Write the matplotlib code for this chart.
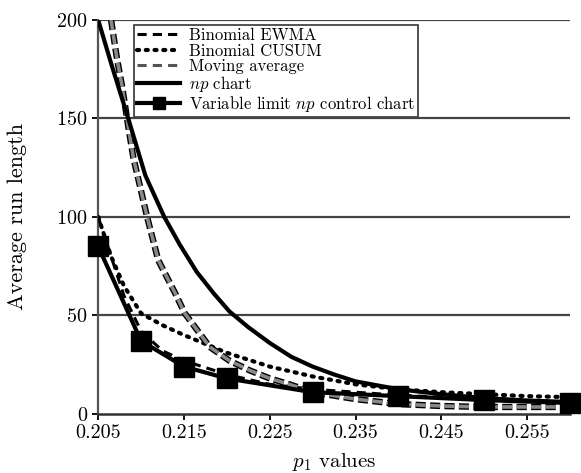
import matplotlib
matplotlib.use('Agg')
import matplotlib.pyplot as plt
import matplotlib.patheffects as pe
import numpy as np

plt.rcParams['font.family'] = 'serif'
plt.rcParams['font.serif'] = ['cmr10', 'DejaVu Serif']
plt.rcParams['mathtext.fontset'] = 'cm'
plt.rcParams['axes.unicode_minus'] = False
plt.rcParams['axes.formatter.use_mathtext'] = True

# values
ewma_x = [0.205, 0.2065, 0.208, 0.21, 0.2125, 0.215, 0.22, 0.225, 0.23, 0.24, 0.25, 0.26]
ewma_y = [100, 80, 60, 42, 32, 27, 20, 15, 12.5, 9.5, 7.5, 6]

cusum_x = [0.205, 0.2065, 0.208, 0.21, 0.2125, 0.215, 0.22, 0.225, 0.23, 0.235, 0.24, 0.245, 0.25, 0.255, 0.26]
cusum_y = [100, 80, 65, 51, 45, 40, 31, 24, 19, 15, 12.5, 11, 10, 9, 8.5]

ma_x = [0.2065, 0.2072, 0.2078, 0.2085, 0.2091, 0.2099, 0.2107, 0.212, 0.214, 0.2151,
        0.218, 0.2203, 0.2227, 0.225, 0.2273, 0.23, 0.235, 0.24, 0.245, 0.25, 0.255, 0.26]
ma_y = [200, 180, 166, 146, 130, 115, 100, 78, 61, 51,
        34, 27, 22, 18, 15, 11, 7.5, 5, 4, 3.5, 3.5, 3.5]

np_x = [0.205, 0.2065, 0.2085, 0.2105, 0.2127, 0.2145, 0.2165, 0.2185, 0.2203, 0.2225,
        0.225, 0.2275, 0.23, 0.2325, 0.235, 0.24, 0.245, 0.25, 0.255, 0.26]
np_y = [200, 178, 150, 121, 100, 86, 72, 61, 52, 44,
        36, 29, 24, 20, 16.5, 12.5, 10, 8, 6.8, 6]

vl_x = [0.205, 0.21, 0.215, 0.22, 0.23, 0.24, 0.25, 0.26]
vl_y = [85, 37, 24, 18, 11, 9, 7, 5.5]

xticks = [0.205, 0.215, 0.225, 0.235, 0.245, 0.255]
yticks = [0, 50, 100, 150, 200]

fig = plt.figure(figsize=(5.81, 4.73), dpi=100)
ax = fig.add_axes([0.169, 0.125, 0.812, 0.833])

for yv in yticks[1:]:
    ax.axhline(yv, color='#444444', lw=1.6, zorder=1)

ax.plot(ewma_x, ewma_y, color='black', lw=2.2, ls=(0, (3, 2)), zorder=3,
        label='Binomial EWMA')
ax.plot(cusum_x, cusum_y, color='black', lw=3, ls=(0, (0.5, 1.6)),
        dash_capstyle='round', zorder=3, label='Binomial CUSUM')
ax.plot(ma_x, ma_y, color='#888888', lw=2.6, ls=(0, (2.8, 1.2)), zorder=3,
        path_effects=[pe.Stroke(linewidth=4.6, foreground='black'), pe.Normal()])
ax.plot(np_x, np_y, color='black', lw=3, zorder=4, label='$np$ chart')
ax.plot(vl_x, vl_y, color='black', lw=3, marker='s', ms=14, zorder=5,
        clip_on=False, label='Variable limit $np$ control chart')

# legend proxy for the moving average (plain grey dashes)
ax.plot([], [], color='#555555', lw=2.2, ls=(0, (3, 2)), label='Moving average')

handles, labels = ax.get_legend_handles_labels()
order = [0, 1, 4, 2, 3]
leg = ax.legend([handles[i] for i in order], [labels[i] for i in order],
                loc='upper left', bbox_to_anchor=(0.075, 0.988), fontsize=12,
                frameon=True, fancybox=False, edgecolor='#444444',
                handlelength=2.6, handletextpad=0.5, borderpad=0.2,
                labelspacing=0.0, framealpha=1, markerscale=0.6,
                borderaxespad=0)
leg.get_frame().set_linewidth(1.3)
leg.set_zorder(6)

ax.set_xlim(0.205, 0.26)
ax.set_ylim(0, 200)
ax.set_xticks(xticks)
ax.set_xticklabels(['%.3f' % v for v in xticks])
ax.set_yticks(yticks)
ax.tick_params(axis='both', direction='out', length=4, width=1.3, labelsize=14.5,
               colors='black')

ax.spines['top'].set_visible(False)
ax.spines['right'].set_visible(False)
ax.spines['left'].set_color('#555555')
ax.spines['left'].set_linewidth(1.6)
ax.spines['bottom'].set_color('#333333')
ax.spines['bottom'].set_linewidth(1.8)

ax.set_ylabel('Average run length', fontsize=16, labelpad=21)
ax.set_xlabel('$p_1$ values', fontsize=15, labelpad=6)

fig.savefig('out.png', dpi=100)
